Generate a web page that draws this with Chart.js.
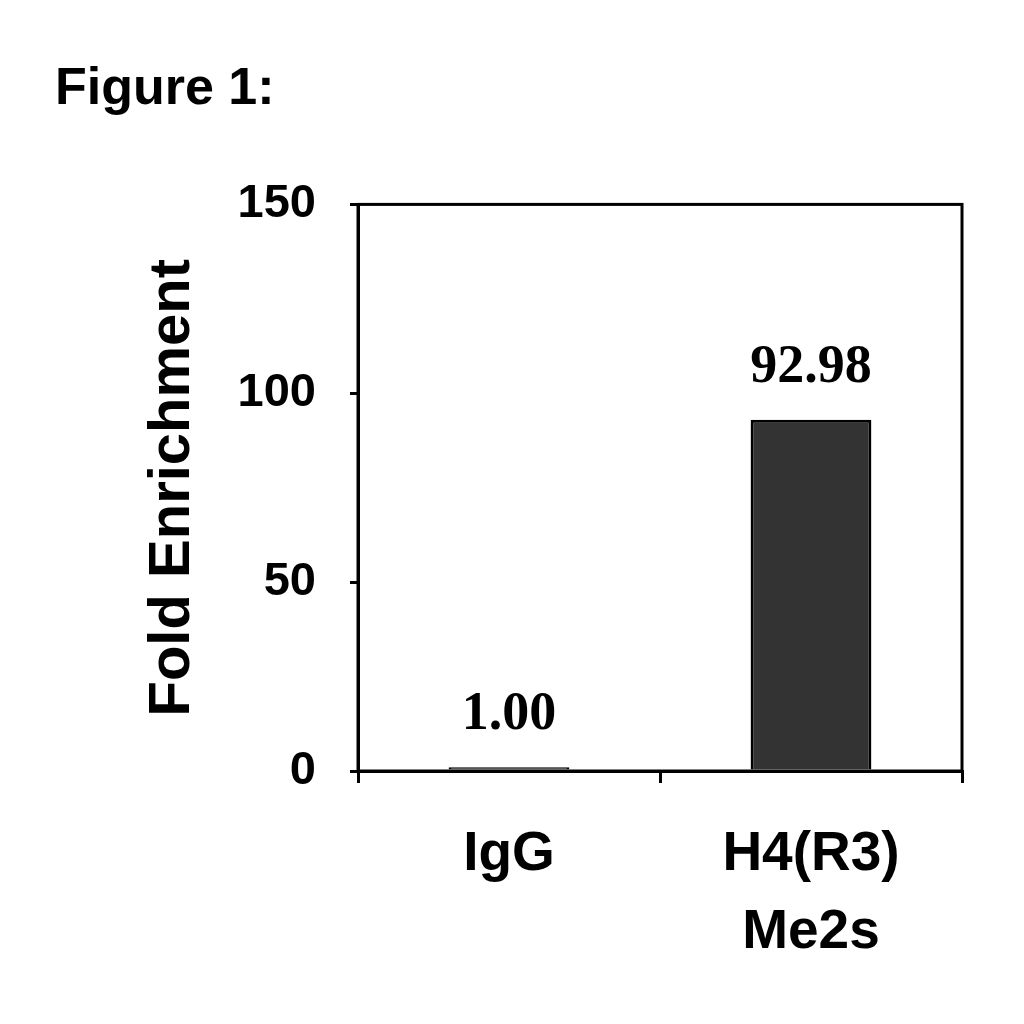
<!DOCTYPE html>
<html>
<head>
<meta charset="utf-8">
<script src="https://cdn.jsdelivr.net/npm/chart.js@4/dist/chart.umd.min.js"></script>
<style>
  html, body { margin: 0; padding: 0; background: #ffffff; }
  #wrap { position: relative; width: 1024px; height: 1024px; }
</style>
</head>
<body>
<div id="wrap"><canvas id="c" width="1024" height="1024"></canvas></div>
<script>
const categories = [["IgG"], ["H4(R3)", "Me2s"]];
const foldEnrichment = [1.00, 92.98];
const yTickValues = [0, 50, 100, 150];
const figureTitle = "Figure 1:";
const yAxisTitle = "Fold Enrichment";

const chartAreaBorder = {
  id: 'chartAreaBorder',
  afterDraw(chart) {
    const {ctx, chartArea: a} = chart;
    ctx.save();
    ctx.strokeStyle = '#000';
    ctx.lineWidth = 3;
    ctx.strokeRect(a.left, a.top, a.right - a.left, a.bottom - a.top);
    ctx.restore();
  }
};

const valueLabels = {
  id: 'valueLabels',
  afterDatasetsDraw(chart) {
    const {ctx} = chart;
    const meta = chart.getDatasetMeta(0);
    ctx.save();
    ctx.fillStyle = '#000';
    ctx.font = 'bold 54px "Liberation Serif", "Times New Roman", serif';
    ctx.textAlign = 'center';
    ctx.textBaseline = 'alphabetic';
    meta.data.forEach((bar, i) => {
      ctx.fillText(foldEnrichment[i].toFixed(2), bar.x, bar.y - 38);
    });
    ctx.restore();
  }
};

new Chart(document.getElementById('c'), {
  type: 'bar',
  data: {
    labels: categories,
    datasets: [{
      data: foldEnrichment,
      backgroundColor: '#333333',
      borderColor: '#000000',
      borderWidth: 3,
      barPercentage: 0.4,
      categoryPercentage: 1.0
    }]
  },
  options: {
    responsive: false,
    animation: false,
    devicePixelRatio: 1,
    layout: { padding: { left: 55, right: 62, top: 0, bottom: 0 } },
    plugins: {
      legend: { display: false },
      tooltip: { enabled: false },
      title: {
        display: true,
        text: figureTitle,
        align: 'start',
        color: '#000',
        font: { family: '"Liberation Sans", Arial, sans-serif', size: 52, weight: 'bold', lineHeight: 1.2 },
        padding: { top: 58, bottom: 84 }
      }
    },
    scales: {
      x: {
        grid: { display: true, drawOnChartArea: false, drawTicks: true, tickLength: 12, color: '#000', lineWidth: 3, offset: true },
        border: { display: true, color: '#000', width: 3 },
        ticks: {
          color: '#000',
          padding: 33,
          maxRotation: 0,
          autoSkip: false,
          font: { family: '"Liberation Sans", Arial, sans-serif', size: 55, weight: 'bold', lineHeight: 1.42 }
        },
        afterFit(scale) { scale.height = 253; }
      },
      y: {
        min: yTickValues[0],
        max: yTickValues[yTickValues.length - 1],
        afterBuildTicks(scale) { scale.ticks = yTickValues.map(v => ({ value: v })); },
        grid: { display: true, drawOnChartArea: false, drawTicks: true, tickLength: 8, color: '#000', lineWidth: 3 },
        border: { display: true, color: '#000', width: 3 },
        ticks: {
          color: '#000',
          padding: 34,
          font: { family: '"Liberation Sans", Arial, sans-serif', size: 47, weight: 'bold' }
        },
        title: {
          display: true,
          text: yAxisTitle,
          color: '#000',
          font: { family: '"Liberation Sans", Arial, sans-serif', size: 58, weight: 'bold', lineHeight: 1.2 },
          padding: { top: 83, bottom: 0 }
        },
        afterFit(scale) { scale.width = 303; }
      }
    }
  },
  plugins: [chartAreaBorder, valueLabels]
});
</script>
</body>
</html>
